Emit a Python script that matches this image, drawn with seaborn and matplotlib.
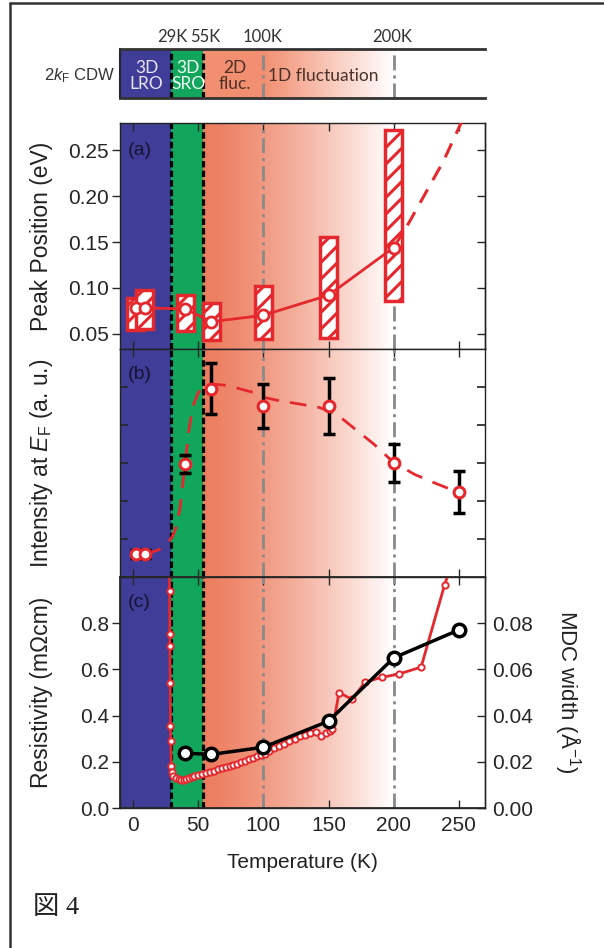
import numpy as np
import matplotlib
matplotlib.use("Agg")
import matplotlib.pyplot as plt
import seaborn as sns
from matplotlib.lines import Line2D

# ---------------- data ----------------
phase_bounds = [29.5, 54]          # 3D LRO / 3D SRO / 2D fluc boundaries (K)
guide_lines = [100, 200]           # dash-dot guide temperatures (K)
xticks = [0, 50, 100, 150, 200, 250]
bar_top_labels = ["29K", "55K", "100K", "200K"]
bar_top_pos = [30, 55.5, 99, 198.5]

# (a) peak position
peak_T = [2, 9, 40, 60, 100, 150, 200]
peak_E = [0.0785, 0.078, 0.077, 0.063, 0.070, 0.092, 0.144]
peak_lo = [0.054, 0.055, 0.053, 0.043, 0.044, 0.045, 0.086]
peak_hi = [0.0887, 0.098, 0.092, 0.083, 0.102, 0.156, 0.272]
peak_ext_T = [200, 212, 225, 238, 252]
peak_ext_E = [0.144, 0.172, 0.205, 0.238, 0.281]
peak_yticks = [0.05, 0.10, 0.15, 0.20, 0.25]

# (b) intensity at EF
int_T = [2, 9, 40, 60, 100, 150, 200, 250]
int_I = [0.61, 0.61, 2.98, 4.95, 4.51, 4.51, 2.99, 2.24]
int_err = [0.11, 0.11, 0.23, 0.67, 0.58, 0.74, 0.50, 0.55]
guide_T = [9, 15, 20, 25, 30, 33, 36, 38, 40, 43, 46, 50, 55, 60, 70, 80, 92,
           100, 112, 128, 143, 156, 169, 185, 200, 216, 231, 250]
guide_I = [0.62, 0.66, 0.72, 0.85, 1.05, 1.3, 1.8, 2.4, 3.0, 3.9, 4.5, 4.85,
           5.02, 5.08, 5.05, 4.97, 4.86, 4.73, 4.64, 4.55, 4.46, 4.29, 3.93,
           3.49, 3.01, 2.70, 2.48, 2.22]

# (c) resistivity and MDC width
res_T = [27.8, 28.0, 28.2, 28.3, 28.5, 28.7, 28.9, 29.3, 30, 31, 33, 35, 37, 39,
         41, 43, 45, 47, 50, 53, 56, 59, 62, 65, 68, 71, 74, 77, 80, 83, 86, 89,
         92, 95, 98, 101, 104, 108, 112, 116, 120, 124, 128, 132, 136, 140, 144,
         148, 151, 153, 158, 168, 178, 191, 204, 221, 239, 244]
res_rho = [1.05, 0.94, 0.755, 0.70, 0.54, 0.357, 0.288, 0.18, 0.155, 0.14, 0.13,
           0.125, 0.122, 0.122, 0.125, 0.13, 0.135, 0.14, 0.145, 0.148, 0.152,
           0.157, 0.162, 0.167, 0.172, 0.178, 0.183, 0.188, 0.192, 0.197, 0.203,
           0.21, 0.218, 0.225, 0.23, 0.235, 0.245, 0.258, 0.268, 0.278, 0.29,
           0.30, 0.31, 0.318, 0.325, 0.33, 0.312, 0.325, 0.335, 0.34, 0.50, 0.47,
           0.545, 0.566, 0.58, 0.61, 0.966, 1.05]
mdc_T = [40, 60, 100, 150, 200, 250]
mdc_W = [0.0237, 0.0232, 0.0263, 0.0376, 0.065, 0.0771]
res_yticks = [0.0, 0.2, 0.4, 0.6, 0.8]
mdc_yticks = [0.00, 0.02, 0.04, 0.06, 0.08]

# ---------------- style ----------------
sns.set_theme(style="ticks")
plt.rcParams["font.family"] = ["Liberation Sans", "DejaVu Sans"]
plt.rcParams["mathtext.fontset"] = "custom"
plt.rcParams["mathtext.rm"] = "Liberation Sans"
plt.rcParams["mathtext.it"] = "Liberation Sans:italic"
plt.rcParams["hatch.linewidth"] = 2.2

BLUE = "#3F3D98"
GREEN = "#12A65C"
SALMON = (0.93, 0.49, 0.37)
SALMON_BAR = (0.95, 0.56, 0.44)
RED = "#E5282D"
GRAY = "#8A8A8A"

W, H = 604, 948
fig = plt.figure(figsize=(W / 100, H / 100), dpi=100)


def rect(x0, y0, x1, y1):
    return [x0 / W, 1 - y1 / H, (x1 - x0) / W, (y1 - y0) / H]


ax_bar = fig.add_axes(rect(120, 49, 485, 98))
ax_a = fig.add_axes(rect(120, 123, 485, 349))
ax_b = fig.add_axes(rect(120, 349, 485, 577), sharex=ax_a)
ax_c = fig.add_axes(rect(120, 577, 485, 808), sharex=ax_a)


def gradient(ax, x0, x1, c0, power=1.3):
    t = np.linspace(0, 1, 256) ** power
    c0 = np.array(c0)
    cols = c0[None, :] * (1 - t[:, None]) + t[:, None]
    ax.imshow(cols[None, :, :], extent=(x0, x1, 0, 1),
              transform=ax.get_xaxis_transform(), aspect="auto",
              zorder=0, interpolation="bilinear")


def backgrounds(ax, bar=False):
    ax.axvspan(-10, phase_bounds[0], color=BLUE, lw=0, zorder=0)
    ax.axvspan(phase_bounds[0], phase_bounds[1], color=GREEN, lw=0, zorder=0)
    if bar:
        ax.axvspan(phase_bounds[1], guide_lines[0], color=SALMON_BAR, lw=0, zorder=0)
        gradient(ax, guide_lines[0], guide_lines[1], SALMON_BAR, power=1.0)
    else:
        gradient(ax, phase_bounds[1], guide_lines[1], SALMON)
    for xb in phase_bounds:
        ax.axvline(xb, color="black", lw=2.3, linestyle=(0, (2, 1)), zorder=1)
    for xg in guide_lines:
        ax.axvline(xg, color=GRAY, lw=2.0, linestyle=(0, (5.4, 1.8, 1.1, 1.8)), zorder=1)


# ---------------- top bar ----------------
backgrounds(ax_bar, bar=True)
ax_bar.set_xlim(-10, 270)
ax_bar.set_ylim(0, 1)
ax_bar.set_xticks([])
ax_bar.set_yticks([])
ax_bar.spines["right"].set_visible(False)
for s in ["top", "bottom"]:
    ax_bar.spines[s].set_linewidth(2)
    ax_bar.spines[s].set_color("#333333")
ax_bar.spines["left"].set_linewidth(1.5)
bar_font = ["Lato", "DejaVu Sans"]
ax_bar.text(10.5, 0.45, "3D\nLRO", ha="center", va="center", color="#E8E6F5",
            fontsize=12.5, family=bar_font, linespacing=1.0)
ax_bar.text(42.5, 0.45, "3D\nSRO", ha="center", va="center", color="#F0FFF5",
            fontsize=12.5, family=bar_font, linespacing=1.0)
ax_bar.text(78, 0.45, "2D\nfluc.", ha="center", va="center", color="#4A3028",
            fontsize=12.5, family=bar_font, linespacing=1.0)
ax_bar.text(146, 0.45, "1D fluctuation", ha="center", va="center", color="#4A3028",
            fontsize=12.5, family=bar_font)
for lab, pos in zip(bar_top_labels, bar_top_pos):
    ax_bar.text(pos, 1.25, lab, ha="center", va="center", fontsize=12,
                family=bar_font, color="#333333",
                transform=ax_bar.get_xaxis_transform())
fig.text(80 / W, 1 - 76 / H, r"2$k_\mathrm{F}$ CDW", ha="center", va="center",
         fontsize=12, color="#333333")

# ---------------- (a) ----------------
backgrounds(ax_a)
heights = [h - l for h, l in zip(peak_hi, peak_lo)]
ax_a.bar(peak_T, heights, bottom=peak_lo, width=13, facecolor="white",
         edgecolor=RED, hatch="//", linewidth=2.5, zorder=3)
sns.lineplot(x=peak_ext_T, y=peak_ext_E, ax=ax_a, color=RED, linewidth=2.2,
             linestyle=(0, (5, 3.5)), estimator=None, sort=False, zorder=4)
sns.lineplot(x=peak_T, y=peak_E, ax=ax_a, color=RED, linewidth=2,
             marker="o", markersize=8, markerfacecolor="white",
             markeredgecolor=RED, markeredgewidth=2, estimator=None,
             sort=False, zorder=5)
ax_a.set_ylim(0.0332, 0.280)
ax_a.set_yticks(peak_yticks)
ax_a.set_yticklabels([f"{v:.2f}" for v in peak_yticks])
ax_a.text(-4, 0.25, "(a)", fontsize=14, color="#151530", va="center", ha="left", zorder=6)

# ---------------- (b) ----------------
backgrounds(ax_b)
sns.lineplot(x=guide_T, y=guide_I, ax=ax_b, color=RED, linewidth=2,
             linestyle=(0, (6, 4)), estimator=None, sort=False, zorder=3)
ax_b.errorbar(int_T, int_I, yerr=int_err, fmt="none", ecolor="black",
              elinewidth=2.5, capsize=4.5, capthick=2.5, zorder=4)
sns.scatterplot(x=int_T, y=int_I, ax=ax_b, s=60, color="white",
                edgecolor=RED, linewidth=2.2, zorder=5)
ax_b.set_ylim(0, 6)
ax_b.set_yticks([1, 2, 3, 4, 5])
ax_b.tick_params(axis="y", labelleft=False, direction="in", left=True,
                 right=True, length=6)
ax_b.text(-4, 5.32, "(b)", fontsize=14, color="#151530", va="center", ha="left", zorder=6)

# ---------------- (c) ----------------
backgrounds(ax_c)
sns.lineplot(x=res_T, y=res_rho, ax=ax_c, color=RED, linewidth=2.0,
             marker="o", markersize=4.5, markerfacecolor="white",
             markeredgecolor=RED, markeredgewidth=1.4, estimator=None,
             sort=False, zorder=3)
ax_c.set_ylim(0, 1.0)
ax_c.set_yticks(res_yticks)
ax_c.set_yticklabels([f"{v:.1f}" for v in res_yticks])
ax_c.text(-4, 0.89, "(c)", fontsize=14, color="#151530", va="center", ha="left", zorder=6)

ax_c2 = ax_c.twinx()
sns.lineplot(x=mdc_T, y=mdc_W, ax=ax_c2, color="black", linewidth=2.5,
             marker="o", markersize=9, markerfacecolor="white",
             markeredgecolor="black", markeredgewidth=2.5, estimator=None,
             sort=False, zorder=3)
ax_c2.set_ylim(0, 0.1)
ax_c2.set_yticks(mdc_yticks)
ax_c2.set_yticklabels([f"{v:.2f}" for v in mdc_yticks])
ax_c2.tick_params(axis="y", direction="in", length=6, width=1, labelsize=15, pad=5)
ax_c2.set_ylabel("")
ax_c2.spines["right"].set_linewidth(1.0)

# ---------------- common axis formatting ----------------
for ax in (ax_a, ax_b, ax_c):
    ax.set_xlim(-10, 270)
    ax.set_xticks(xticks)
    ax.tick_params(axis="x", direction="in", top=True, bottom=True,
                   length=6, width=1, labelsize=15, pad=6)
    ax.set_xlabel("")
    ax.set_ylabel("")
    for s in ax.spines.values():
        s.set_linewidth(1.0)
        s.set_color("#222222")
ax_a.tick_params(axis="x", labelbottom=False)
ax_b.tick_params(axis="x", labelbottom=False)
for ax in (ax_a, ax_c):
    ax.tick_params(axis="y", direction="out", left=True, right=False,
                   length=6, width=1, labelsize=15, pad=2)
sec = ax_a.secondary_yaxis("right")
sec.set_yticks(peak_yticks)
sec.tick_params(direction="in", length=6, width=1, labelright=False)
sec.spines["right"].set_linewidth(1.0)

# ---------------- labels ----------------
lab_kw = dict(rotation=90, ha="center", va="center", fontsize=16.5, color="#222222")
fig.text(42 / W, 1 - 236 / H, "Peak Position (eV)", **lab_kw)
fig.text(42 / W, 1 - 463 / H, r"Intensity at $E_\mathrm{F}$ (a. u.)", **lab_kw)
fig.text(42 / W, 1 - 692 / H, "Resistivity (mΩcm)", **lab_kw)
fig.text(568 / W, 1 - 692 / H, r"MDC width (Å$^{-1}$)", rotation=270,
         ha="center", va="center", fontsize=16, color="#222222")
fig.text(302 / W, 1 - 862 / H, "Temperature (K)", ha="center", va="center",
         fontsize=15, color="#222222")

fig.text(33 / W, 1 - 908 / H, "図 4", ha="left", va="center", fontsize=19,
         family=["Liberation Serif", "Noto Sans CJK JP"], color="#222222")

# frame lines
fig.add_artist(Line2D([10 / W, 10 / W], [0, 1 - 3 / H], transform=fig.transFigure,
                      color="#333333", lw=1.8))
fig.add_artist(Line2D([10 / W, 1], [1 - 3 / H, 1 - 3 / H], transform=fig.transFigure,
                      color="#333333", lw=1.8))

fig.savefig("out.png", dpi=100)
